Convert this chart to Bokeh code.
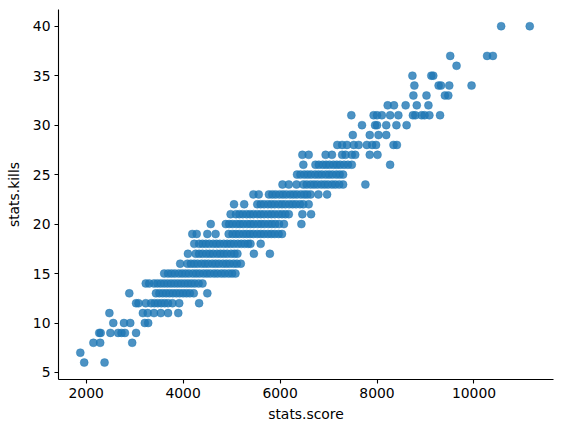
from bokeh.plotting import figure
from bokeh.models import ColumnDataSource, FixedTicker, Range1d
from bokeh.embed import file_html
from bokeh.resources import INLINE

# stats.score values observed for each stats.kills level
score_k06 = [1960, 2380]
score_k07 = [1880]
score_k08 = [2150, 2290, 2950]
score_k09 = [2270, 2300, 2500, 2660, 2730, 2800, 3030]
score_k10 = [2560, 2780, 2910, 3210, 3280]
score_k11 = [2480, 3170, 3270, 3400, 3540, 3690, 3900]
score_k12 = [3030, 3080, 3230, 3340, 3410, 3480, 3550, 3620, 3690, 3780, 3920, 4330]
score_k13 = [2890, 3440, 3510, 3580, 3650, 3720, 3790, 3860, 3930, 4000, 4070, 4140, 4220, 4500]
score_k14 = [3230, 3300, 3400, 3470, 3540, 3610, 3680, 3750, 3820, 3890, 3960, 4030,
             4100, 4170, 4240, 4320, 4400]
score_k15 = [3610, 3690, 3760, 3830, 3910, 3980, 4050, 4120, 4200, 4270, 4340, 4420,
             4490, 4560, 4640, 4710, 4790, 4860, 4940, 5010, 5080]
score_k16 = [3940, 4090, 4160, 4230, 4300, 4380, 4450, 4520, 4600, 4670, 4740, 4820,
             4890, 4960, 5040, 5110, 5190]
score_k17 = [4100, 4260, 4330, 4400, 4480, 4550, 4620, 4700, 4770, 4840, 4910, 4990,
             5060, 5120, 5460, 5790]
score_k18 = [4230, 4330, 4400, 4470, 4540, 4620, 4690, 4760, 4840, 4910, 4980, 5050,
             5130, 5200, 5270, 5340, 5390, 5600]
score_k19 = [4190, 4280, 4500, 4670, 4940, 5020, 5090, 5160, 5240, 5310, 5380, 5450,
             5530, 5600, 5670, 5750, 5820, 5890, 5970, 6040]
score_k20 = [4570, 4880, 4950, 5020, 5100, 5170, 5240, 5320, 5390, 5460, 5540, 5610,
             5680, 5760, 5830, 5900, 5980, 6080, 6440]
score_k21 = [4980, 5090, 5160, 5230, 5310, 5380, 5450, 5530, 5600, 5670, 5750, 5820,
             5890, 5970, 6040, 6110, 6180, 6460, 6640]
score_k22 = [5050, 5260, 5530, 5600, 5670, 5750, 5820, 5890, 5970, 6040, 6110, 6190,
             6260, 6330, 6410, 6480, 6590]
score_k23 = [5450, 5560, 5770, 5840, 5910, 5990, 6060, 6130, 6210, 6280, 6350, 6430,
             6500, 6560, 6630, 6790, 6970]
score_k24 = [6050, 6180, 6340, 6480, 6550, 6630, 6700, 6770, 6850, 6920, 6990, 7070,
             7140, 7220, 7300, 7760]
score_k25 = [6350, 6420, 6500, 6570, 6640, 6720, 6790, 6860, 6940, 7010, 7080, 7160,
             7230, 7300]
score_k26 = [6480, 6730, 6800, 6880, 6950, 7020, 7100, 7170, 7240, 7320, 7400, 7480, 8270]
score_k27 = [6460, 6590, 6940, 7070, 7280, 7350, 7480, 7550, 7850, 8010]
score_k28 = [7180, 7280, 7380, 7520, 7620, 7790, 7900, 7980, 8340, 8410]
score_k29 = [7500, 7850, 8030, 8190]
score_k30 = [7690, 7960, 8000, 8190, 8400, 8610]
score_k31 = [7470, 7930, 8000, 8100, 8270, 8440, 8740, 8790, 8920, 8980, 9080, 9300]
score_k32 = [8220, 8350, 8590, 8820, 9060]
score_k33 = [8750, 9020, 9400, 9470]
score_k34 = [8770, 9270, 9320, 9490, 9950]
score_k35 = [8730, 9120, 9160]
score_k36 = [9640]
score_k37 = [9510, 10270, 10390]
score_k40 = [10560, 11150]

kills_levels = [6, 7, 8, 9, 10, 11, 12, 13, 14, 15, 16, 17, 18, 19, 20, 21, 22, 23,
                24, 25, 26, 27, 28, 29, 30, 31, 32, 33, 34, 35, 36, 37, 40]
score_rows = [score_k06, score_k07, score_k08, score_k09, score_k10, score_k11,
              score_k12, score_k13, score_k14, score_k15, score_k16, score_k17,
              score_k18, score_k19, score_k20, score_k21, score_k22, score_k23,
              score_k24, score_k25, score_k26, score_k27, score_k28, score_k29,
              score_k30, score_k31, score_k32, score_k33, score_k34, score_k35,
              score_k36, score_k37, score_k40]

x_ticks = [2000, 4000, 6000, 8000, 10000]
y_ticks = [5, 10, 15, 20, 25, 30, 35, 40]

xs, ys = [], []
for k, row in zip(kills_levels, score_rows):
    for s in row:
        xs.append(s)
        ys.append(k)
src = ColumnDataSource(dict(score=xs, kills=ys))

p = figure(width=554, height=424, output_backend="svg", toolbar_location=None,
           x_range=Range1d(1430, 11640), y_range=Range1d(4.29, 41.69),
           min_border_left=58, min_border_right=1, min_border_top=9, min_border_bottom=45)
p.outline_line_color = None
p.grid.grid_line_color = None
p.background_fill_color = "white"

p.scatter("score", "kills", source=src, size=8, fill_color="#1f77b4", fill_alpha=0.8,
          line_color="#1f77b4", line_alpha=0.8, line_width=0.5)

for ax in (p.xaxis[0], p.yaxis[0]):
    ax.axis_line_color = "black"
    ax.axis_line_width = 1.1
    ax.major_tick_line_color = "black"
    ax.major_tick_line_width = 1.1
    ax.major_tick_in = 0
    ax.major_tick_out = 4
    ax.minor_tick_line_color = None
    ax.major_label_text_font = "DejaVu Sans"
    ax.major_label_text_font_size = "13.9px"
    ax.major_label_text_color = "black"
    ax.axis_label_text_font = "DejaVu Sans"
    ax.axis_label_text_font_size = "13.9px"
    ax.axis_label_text_font_style = "normal"
    ax.axis_label_text_color = "black"
    ax.major_label_standoff = 4

p.xaxis[0].ticker = FixedTicker(ticks=x_ticks)
p.yaxis[0].ticker = FixedTicker(ticks=y_ticks)
p.xaxis[0].axis_label = "stats.score"
p.yaxis[0].axis_label = "stats.kills"
p.xaxis[0].axis_label_standoff = 5
p.yaxis[0].axis_label_standoff = 8

open("out.html", "w").write(file_html(p, INLINE))
